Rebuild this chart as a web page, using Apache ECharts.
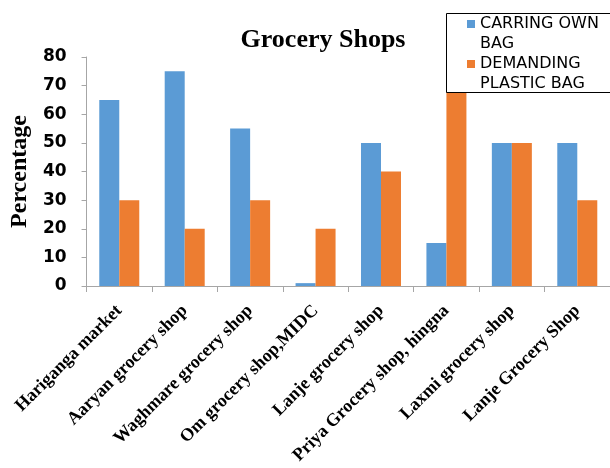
<!DOCTYPE html>
<html>
<head>
<meta charset="utf-8">
<script src="https://cdn.jsdelivr.net/npm/echarts@6/dist/echarts.min.js"></script>
<style>
  html, body { margin: 0; padding: 0; background: #fff; }
  #main { width: 610px; height: 468px; }
</style>
</head>
<body>
<div id="main"></div>
<script>
var shops = ['Hariganga market', 'Aaryan grocery shop', 'Waghmare grocery shop', 'Om grocery shop,MIDC',
  'Lanje grocery shop', 'Priya Grocery shop, hingna', 'Laxmi grocery shop', 'Lanje Grocery Shop'];
var ownBag = [65, 75, 55, 1, 50, 15, 50, 50];
var plasticBag = [30, 20, 30, 20, 40, 70, 50, 30];

var chart = echarts.init(document.getElementById('main'));

// square sits next to the first line of the two-line legend text
var legendIcon = 'path://M0,6h8v8h-8z M0,0 M0,40';

var option = {
  backgroundColor: '#fff',
  animation: false,
  title: {
    text: 'Grocery Shops',
    left: 318,
    top: 22,
    textAlign: 'center',
    textStyle: {
      fontFamily: 'Liberation Serif',
      fontWeight: 'bold',
      fontSize: 26,
      color: '#000'
    }
  },
  // legend frame runs off the right edge like the original
  graphic: [{
    type: 'rect',
    z: 9,
    shape: { x: 446.5, y: 13.5, width: 200, height: 79 },
    style: { fill: '#fff', stroke: '#000', lineWidth: 1 }
  }],
  legend: {
    orient: 'vertical',
    left: 446,
    top: 13,
    padding: [1, 0, 0, 21],
    itemGap: 0,
    itemWidth: 8,
    itemHeight: 40,
    z: 10,
    icon: legendIcon,
    data: ['CARRING OWN BAG', 'DEMANDING PLASTIC BAG'],
    formatter: function (name) {
      return name == 'CARRING OWN BAG' ? 'CARRING OWN\nBAG' : 'DEMANDING\nPLASTIC BAG';
    },
    textStyle: {
      fontFamily: 'DejaVu Sans',
      fontSize: 16,
      lineHeight: 20,
      color: '#000'
    }
  },
  grid: {
    left: 85,
    width: 536,
    top: 57,
    bottom: 182
  },
  xAxis: {
    type: 'category',
    data: shops,
    axisLine: { lineStyle: { color: '#a6a6a6', width: 1 } },
    axisTick: { show: true, length: 6, lineStyle: { color: '#a6a6a6' } },
    axisLabel: {
      rotate: 45,
      interval: 0,
      margin: 22,
      fontFamily: 'Liberation Serif',
      fontWeight: 'bold',
      fontSize: 18,
      color: '#000'
    }
  },
  yAxis: {
    type: 'value',
    min: 0,
    max: 80,
    interval: 10,
    name: 'Percentage',
    nameLocation: 'middle',
    nameGap: 50,
    nameTextStyle: {
      fontFamily: 'Liberation Serif',
      fontWeight: 'bold',
      fontSize: 24,
      color: '#000'
    },
    axisLine: { show: true, lineStyle: { color: '#a6a6a6' } },
    axisTick: { show: true, length: 5, lineStyle: { color: '#a6a6a6' } },
    splitLine: { show: false },
    axisLabel: {
      margin: 20,
      fontFamily: 'DejaVu Sans',
      fontWeight: 'bold',
      fontSize: 17,
      color: '#000'
    }
  },
  series: [
    {
      name: 'CARRING OWN BAG',
      type: 'bar',
      data: ownBag,
      barWidth: 20,
      barGap: '0%',
      itemStyle: { color: '#5b9bd5' }
    },
    {
      name: 'DEMANDING PLASTIC BAG',
      type: 'bar',
      data: plasticBag,
      barWidth: 20,
      itemStyle: { color: '#ed7d31' }
    }
  ]
};

chart.setOption(option);
</script>
</body>
</html>
